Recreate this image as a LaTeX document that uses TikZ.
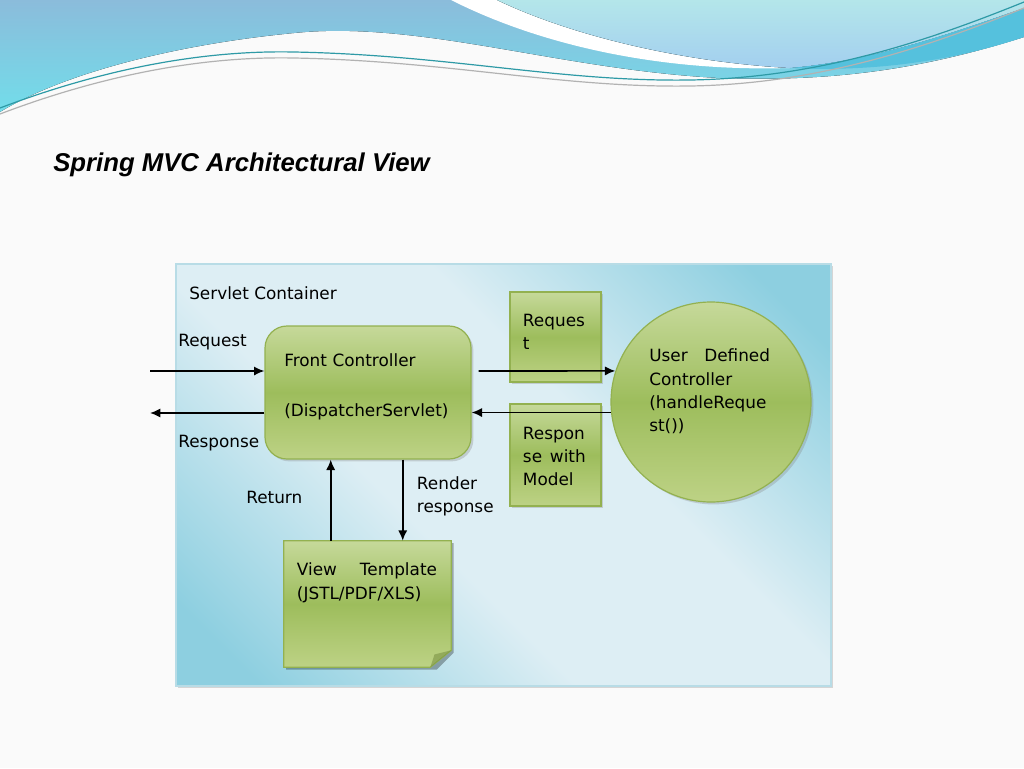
\documentclass[tikz,border=0pt]{standalone}
\usepackage{fontspec}
\setmainfont{DejaVu Sans}
\newfontfamily\titlefont{Liberation Sans}
\usetikzlibrary{arrows, arrows.meta, shapes, shadows, positioning, calc}

\definecolor{wavetop}{HTML}{8BBCDB}
\definecolor{wavebot}{HTML}{72DDEA}
\definecolor{wavelight}{HTML}{B4E6EA}
\definecolor{wavelav}{HTML}{A3CFEF}
\definecolor{waveband}{HTML}{55C1DD}
\definecolor{waveline}{HTML}{2E9AA6}
\definecolor{contdark}{HTML}{8DCFE0}
\definecolor{contlight}{HTML}{DDEEF4}
\definecolor{contedge}{HTML}{B8DCE6}
\definecolor{gtop}{HTML}{C6D99A}
\definecolor{gmid}{HTML}{9DBD5C}
\definecolor{gbot}{HTML}{BDD285}
\definecolor{boxedge}{HTML}{93B150}

\pgfdeclarehorizontalshading{contshade}{100bp}{color(0bp)=(contdark); color(20bp)=(contdark); color(41bp)=(contlight); color(59bp)=(contlight); color(80bp)=(contdark); color(100bp)=(contdark)}

\begin{document}
\begin{tikzpicture}[x=0.25mm, y=-0.25mm]
 \tikzstyle{greenbox}=[rectangle, draw=boxedge, line width=0.3mm, top color=gtop, bottom color=gbot, middle color=gmid, drop shadow={shadow xshift=0.6mm, shadow yshift=-0.6mm, opacity=0.3}]
 \tikzstyle{txt}=[anchor=base west, inner sep=0pt, align=left, font=\fontsize{12}{17}\selectfont]
 \tikzstyle{line}=[draw, line width=0.4mm, -{Latex[length=2.6mm, width=2.3mm]}]

 \useasboundingbox (0,0) rectangle (1024,768);
 \fill[white!98!black] (0,0) rectangle (1024,768);

 \fill[top color=wavetop, bottom color=wavebot] (0,0) -- (1024,0) -- (1024,37) .. controls (920,70) and (830,82) .. (720,78) .. controls (560,70) and (420,20) .. (294,33) .. controls (170,45) and (60,75) .. (0,112) -- cycle;
 \fill[white] (451,0) .. controls (540,45) and (660,72) .. (790,68) .. controls (680,62) and (570,35) .. (497,0) -- cycle;
 \fill[top color=wavelight, bottom color=wavelav] (497,0) .. controls (570,35) and (680,62) .. (790,68) .. controls (880,60) and (960,30) .. (1024,8) -- (1024,0) -- cycle;
 \fill[waveband] (790,68) .. controls (880,60) and (960,30) .. (1024,8) -- (1024,37) .. controls (950,62) and (870,72) .. (790,68) -- cycle;
 \draw[waveline, line width=0.3mm] (0,108) .. controls (100,70) and (200,50) .. (294,52) .. controls (450,55) and (560,82) .. (690,80) .. controls (820,78) and (930,40) .. (1024,2);
 \draw[gray!60, line width=0.3mm] (0,114) .. controls (100,76) and (200,56) .. (294,58) .. controls (450,61) and (560,88) .. (690,86) .. controls (820,84) and (930,46) .. (1024,8);

 \draw (53,171.7) node[anchor=base west, inner sep=0pt, font=\titlefont\fontsize{18.3}{22}\selectfont\bfseries\itshape] (title) {Spring MVC Architectural View};

 \draw (503.5,475) node[rectangle, draw=contedge, line width=0.3mm, shading=contshade, shading angle=45, minimum width=163.75mm, minimum height=105.5mm, drop shadow={shadow xshift=0.5mm, shadow yshift=-0.5mm, opacity=0.3}] (cont) {};
 \draw (189,299) node[txt] (contlbl) {Servlet Container};

 \draw (368,392.5) node[greenbox, rounded corners=5.5mm, minimum width=51.5mm, minimum height=33.25mm] (fc) {};
 \draw (555.5,337) node[greenbox, minimum width=22.75mm, minimum height=22.5mm] (reqbox) {};
 \draw (555.5,455) node[greenbox, minimum width=22.75mm, minimum height=25.5mm] (respbox) {};
 \draw (711,402) node[greenbox, circle, minimum size=50mm] (ctrl) {};
 \draw (367.5,604) node[rectangle, minimum width=41.75mm, minimum height=31.5mm] (view) {};
 \fill[black, opacity=0.3] ([xshift=0.6mm, yshift=-0.6mm]view.north west) -- ([xshift=0.6mm, yshift=-0.6mm]view.north east) -- ([xshift=0.6mm, yshift=3.65mm]view.south east) -- ([xshift=-3.65mm, yshift=-0.6mm]view.south east) -- ([xshift=0.6mm, yshift=-0.6mm]view.south west) -- cycle;
 \path[draw=boxedge, line width=0.3mm, top color=gtop, bottom color=gbot, middle color=gmid] (view.north west) -- (view.north east) -- ([yshift=4.25mm]view.south east) -- ([xshift=-5.25mm]view.south east) -- (view.south west) -- cycle;
 \fill[boxedge!80!black, opacity=0.55] ([yshift=4.25mm]view.south east) -- ([xshift=-5.25mm]view.south east) -- ([xshift=-4.2mm, yshift=3.2mm]view.south east) -- cycle;

 \draw (284,366.7) node[txt, text width=45mm] (fctext) {Front Controller\\[18.6pt](DispatcherServlet)};
 \draw (522.7,326) node[txt, text width=18mm] (reqtext) {Reques\\t};
 \draw (522.7,439) node[txt, text width=15.7mm, font=\fontsize{12}{16.5}\selectfont] (resptext) {Respon\\se\hfill with\\Model};
 \draw (649,361.7) node[txt, text width=30.2mm, font=\fontsize{12}{16.6}\selectfont] (ctrltext) {User\hfill Defined\\Controller\\(handleReque\\st())};
 \draw (296.7,575) node[txt, text width=35mm, font=\fontsize{12}{17.5}\selectfont] (viewtext) {View\hfill Template\\(JSTL/PDF/XLS)};

 \draw (178,346) node[txt] (reqlbl) {Request};
 \draw (178,447.7) node[txt] (resplbl) {Response};
 \draw (246,503) node[txt] (retlbl) {Return};
 \draw (416.7,489) node[txt, text width=22mm] (renderlbl) {Render\\response};

 \coordinate (reqin) at (150,371);
 \coordinate (respout) at (150,413);
 \path[line] (reqin) -- (reqin -| fc.west);
 \path[line] (respout -| fc.west) -- (respout);
 \path[line, shorten <=1.75mm] (reqin -| fc.east) -- (ctrl.162);
 \path[line] (ctrl.186) -- (ctrl.186 -| fc.east);
 \path[line] ([xshift=11.75mm]view.north west) -- ([xshift=11.75mm]view.north west |- fc.south);
 \path[line] ([xshift=29.75mm]view.north west |- fc.south) -- ([xshift=29.75mm]view.north west);
\end{tikzpicture}
\end{document}
